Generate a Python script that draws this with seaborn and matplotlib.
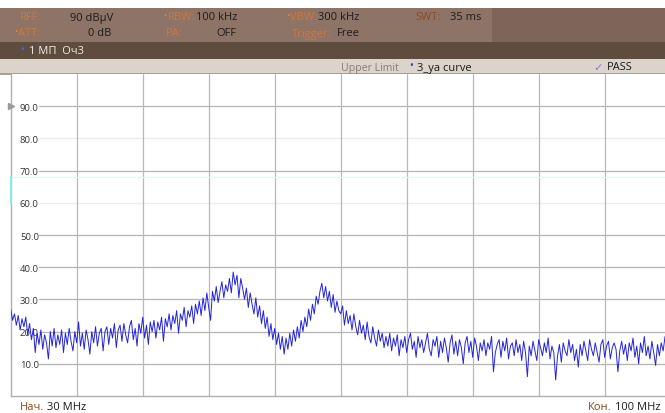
import numpy as np
import matplotlib
matplotlib.use("Agg")
import matplotlib.pyplot as plt
from matplotlib.patches import Rectangle
import seaborn as sns

# sweep settings
start_mhz = 30.0
stop_mhz = 100.0
y_ticks = [10, 20, 30, 40, 50, 60, 70, 80, 90]
y_tick_labels = ["10.0", "20.0", "30.0", "40.0", "50.0", "60.0", "70.0", "80.0", "90.0"]
light_rows = [60, 80]
x_grid_mhz = [37, 44, 51, 58, 65, 72, 79, 86, 93]
limit_db = 68

# trace, one value every 0.2 MHz (dBuV)
level_30_35 = [27, 23.5, 25.5, 22, 25, 20.5, 24, 21.5, 24.5, 19, 22.5, 17.5, 21, 13.5, 19.5,
               16, 20.5, 14.5, 19, 16.5, 11.5, 20, 15.5, 21, 15]
level_35_40 = [19, 16, 20.5, 13.5, 19.5, 16, 21, 17, 14, 20, 16.5, 23, 15.5, 19.5, 14.5,
               20.5, 17.5, 13, 20, 16.5, 21.5, 15.5, 19.5, 21, 14]
level_40_45 = [20, 21.5, 16, 21, 18, 22.5, 15, 20.5, 22, 17, 22.5, 19, 16.5, 21.5, 23.5,
               17.5, 21, 15.5, 22.5, 19.5, 24.5, 18, 22, 16, 23]
level_45_50 = [20, 23.5, 18, 23, 20.5, 24.5, 17, 24, 21.5, 25.5, 20.5, 25, 22.5, 26.5, 19.5,
               25.5, 23.5, 27.5, 21.5, 26.5, 24.5, 28, 22.5, 28.5, 25.5]
level_50_55 = [29.5, 25, 30.5, 26.5, 32, 27.5, 23.5, 32.5, 29.5, 34, 29, 32.5, 35.5, 30.5, 34.5,
               32.5, 36.5, 32, 38.5, 34.5, 37.5, 30.5, 36.5, 33.5, 30]
level_55_60 = [33.5, 27.5, 32, 28.5, 25.5, 30.5, 24.5, 28, 22.5, 26.5, 21, 24.5, 18.5, 22.5, 17.5,
               21, 16, 19.5, 14.5, 18.5, 13, 18, 14.5, 19.5, 15.5]
level_60_65 = [20.5, 17, 21.5, 18, 23.5, 20, 24.5, 21.5, 27, 23.5, 28.5, 25.5, 31, 28.5, 32.5,
               35, 30.5, 34, 29.5, 32.5, 27.5, 31.5, 26, 29.5, 26.5]
level_65_70 = [25.5, 28, 22, 26.5, 22.5, 25, 20.5, 25.5, 21.5, 19, 23.5, 19.5, 22, 17.5, 23,
               18.5, 16.5, 21.5, 18, 15.5, 20.5, 17, 19.5, 15, 18.5]
level_70_75 = [15.5, 19.5, 14, 18, 15.5, 19, 12.5, 17.5, 15, 18.5, 13.5, 17.5, 19.5, 14.5, 17,
               12, 18.5, 15, 17.5, 13.5, 16.5, 19.5, 14.5, 12.5, 17.5]
level_75_80 = [15.5, 18.5, 12, 17, 13.5, 18, 15, 10.5, 16.5, 19, 13, 17, 12.5, 17.5, 15,
               10, 16.5, 18.5, 13.5, 17, 12, 18, 15.5, 11, 16.5]
level_80_85 = [14, 17.5, 12.5, 16.5, 14.5, 18.5, 7.5, 13.5, 16, 17.5, 12, 17, 14, 18, 11.5,
               15.5, 16.5, 12.5, 17.5, 13.5, 16, 11, 17, 13.5, 6]
level_85_90 = [15.5, 12.5, 17, 14, 11, 17.5, 15, 12.5, 16.5, 13.5, 18, 11.5, 15.5, 13.5, 5,
               12.5, 16, 10.5, 16.5, 14, 12.5, 17.5, 13.5, 16, 11]
level_90_95 = [14.5, 9, 16, 12.5, 17, 14, 11, 17.5, 14.5, 12.5, 16.5, 13.5, 10.5, 16, 17.5,
               12, 15.5, 17, 11.5, 15, 16.5, 14.5, 7.5, 14, 17]
level_95_100 = [13, 16, 11, 16.5, 14, 18, 12, 15.5, 10, 16.5, 13.5, 18.5, 12.5, 15.5, 11.5,
                17, 13.5, 9.5, 16, 12.5, 16.5, 14, 18.5, 12.5, 15, 15.5]

level = np.array(level_30_35 + level_35_40 + level_40_45 + level_45_50 + level_50_55
                 + level_55_60 + level_60_65 + level_65_70 + level_70_75 + level_75_80
                 + level_80_85 + level_85_90 + level_90_95 + level_95_100)
freq = np.linspace(start_mhz, stop_mhz, len(level))

W, H = 665, 414
sns.set_theme(style="white")
plt.rcParams["font.family"] = ["Open Sans", "DejaVu Sans"]


def fx(x):
    return x / W


def fy(y):
    return 1 - y / H


fig = plt.figure(figsize=(W / 100, H / 100), dpi=100)
fig.patch.set_facecolor("white")


# header bands
def band(x0, y0, x1, y1, color):
    fig.add_artist(Rectangle((fx(x0), fy(y1)), fx(x1) - fx(x0), fy(y0) - fy(y1),
                             transform=fig.transFigure, facecolor=color, edgecolor="none",
                             zorder=0))


band(0, 9, 492, 43, "#8e7367")
band(492, 9, 665, 43, "#7f6559")
band(0, 43, 665, 60, "#5e4c3e")
band(0, 60, 665, 75, "#dcd3ca")
band(0, 74, 665, 75.5, "#a8a098")

lab = "#d4763a"
val = "#1c1c1c"
fs = 8


def txt(x, y, s, color, ha="left", size=fs, **kw):
    fig.text(fx(x), fy(y), s, color=color, ha=ha, va="center", fontsize=size, **kw)


txt(20, 18, "RFF:", lab)
txt(113, 18, "90 dBµV", val, ha="right")
txt(163, 17, "•", "#f08a3c", size=6)
txt(168, 18, "RBW:", lab)
txt(196, 18, "100 kHz", val)
txt(286, 17, "•", "#f08a3c", size=6)
txt(290, 18, "VBW:", lab)
txt(318, 18, "300 kHz", val)
txt(415, 18, "SWT:", "#8c4a22")
txt(481, 18, "35 ms", val, ha="right")

txt(14, 33, "•", "#f08a3c", size=6)
txt(18, 34, "ATT:", lab)
txt(111, 34, "0 dB", val, ha="right")
txt(166, 34, "PA:", lab)
txt(236, 34, "OFF", val, ha="right")
txt(292, 34, "Trigger:", lab)
txt(337, 34, "Free", val)

txt(20, 50, "•", "#3a6cff", size=7)
txt(29, 51, "1 МП  Оч3", "#f2ebe4")

txt(399, 68, "Upper Limit", "#8c7d74", ha="right", size=7.6)
txt(409, 67, "•", "#1530c8", size=7)
txt(417, 68, "3_ya curve", val)
txt(593, 68, "✓", "#9a70e6", size=8)
txt(607, 68, "PASS", val)

# bottom labels
txt(20, 408, "Нач.", "#8a4418")
txt(47, 408, "30 MHz", val)
txt(588, 408, "Кон.", "#8a4418")
txt(615, 408, "100 MHz", val)

# plot area
ax = fig.add_axes([fx(10.7), fy(397), (670.7 - 10.7) / W, fy(75) - fy(397)])
ax.set_facecolor("white")
ax.set_xlim(start_mhz, stop_mhz)
ax.set_ylim(0, 100)
ax.set_xticks([])
ax.set_yticks(y_ticks)
ax.set_yticklabels(y_tick_labels)
ax.tick_params(axis="y", length=0, pad=-6.6, labelsize=6.8, labelcolor="#333333")
for t in ax.get_yticklabels():
    t.set_ha("left")
for s in ["top", "right"]:
    ax.spines[s].set_visible(False)
for s in ["left", "bottom"]:
    ax.spines[s].set_color("#b0b0b0")
    ax.spines[s].set_linewidth(1.0)

for v in y_ticks:
    c = "#ececec" if v in light_rows else "#b4b4b4"
    ax.axhline(v, xmin=0.043, xmax=1, color=c, lw=0.9, zorder=1)
for m in x_grid_mhz:
    ax.axvline(m, color="#b8b8b8", lw=0.9, zorder=1)

# upper limit line and its marker
ax.axhline(limit_db, color="#dcfafa", lw=0.9, zorder=1)
ax.plot([start_mhz, start_mhz], [60, limit_db], color="#7ff0f0", lw=1.4, clip_on=False, zorder=3)
# reference level marker
ax.plot([start_mhz], [90], marker=">", color="#9a9a9a", ms=4, clip_on=False, zorder=3)

sns.lineplot(x=freq, y=level, ax=ax, color="#2424d8", linewidth=0.7,
             estimator=None, sort=False, zorder=4)
ax.set_xlabel("")
ax.set_ylabel("")

fig.savefig("out.png", dpi=100)
